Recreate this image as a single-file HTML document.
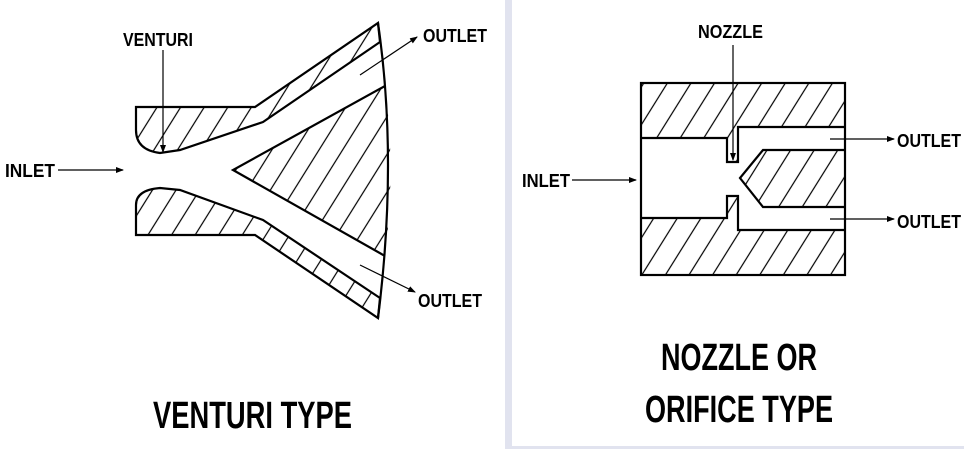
<!DOCTYPE html>
<html><head><style>html,body{margin:0;padding:0;background:#fff}svg{display:block}</style></head><body>
<svg width="964" height="449" viewBox="0 0 964 449" xmlns="http://www.w3.org/2000/svg">
<defs>
<pattern id="h" patternUnits="userSpaceOnUse" width="20" height="200" patternTransform="rotate(32)">
<line x1="10" y1="0" x2="10" y2="200" stroke="#000" stroke-width="1.2"/>
</pattern>
<marker id="a" markerWidth="8" markerHeight="6" refX="7" refY="3" orient="auto" markerUnits="userSpaceOnUse"><path d="M0,0 L8,3 L0,6 z" fill="#000"/></marker>
</defs>
<rect x="505" y="0" width="7" height="449" fill="#e1e3ef"/>
<rect x="505" y="446" width="459" height="3" fill="#e1e3ef"/>
<g font-family="Liberation Sans, sans-serif" font-weight="bold" fill="#000">
<text x="123" y="46" font-size="18" textLength="70" lengthAdjust="spacingAndGlyphs">VENTURI</text>
<text x="5" y="177" font-size="18" textLength="50" lengthAdjust="spacingAndGlyphs">INLET</text>
<text x="423" y="42" font-size="18" textLength="64" lengthAdjust="spacingAndGlyphs">OUTLET</text>
<text x="418" y="307" font-size="18" textLength="64" lengthAdjust="spacingAndGlyphs">OUTLET</text>
<text x="153" y="428" font-size="38" textLength="199" lengthAdjust="spacingAndGlyphs">VENTURI TYPE</text>
<text x="698" y="38" font-size="18" textLength="65" lengthAdjust="spacingAndGlyphs">NOZZLE</text>
<text x="522" y="187" font-size="18" textLength="48" lengthAdjust="spacingAndGlyphs">INLET</text>
<text x="897" y="147" font-size="18" textLength="64" lengthAdjust="spacingAndGlyphs">OUTLET</text>
<text x="897" y="228" font-size="18" textLength="64" lengthAdjust="spacingAndGlyphs">OUTLET</text>
<text x="661" y="370" font-size="38" textLength="156" lengthAdjust="spacingAndGlyphs">NOZZLE OR</text>
<text x="645" y="422" font-size="38" textLength="188" lengthAdjust="spacingAndGlyphs">ORIFICE TYPE</text>
</g>
<g fill="none" stroke="#000" stroke-width="2.2" stroke-linejoin="miter">
<path d="M136,107 L255,107 L378,23 L380,42 L263,122 L180,150 L160,153 Q136,150 136,130 Z" fill="url(#h)"/>
<path d="M136,235 L255,235 L378,318 L380,298 L263,220 L180,190 L160,188 Q136,190 136,205 Z" fill="url(#h)"/>
<path d="M385,86 Q396,170 385,256 L233,170 Z" fill="url(#h)" stroke="none"/>
<path d="M385,86 L233,170 L385,256"/>
<path d="M378,23 Q398,160 378,318"/>
<rect x="641" y="83" width="204" height="192"/>
<path d="M641,138 L727,138 L727,162 L738,162 L738,127 L845,127 L845,83 L641,83 Z" fill="url(#h)" stroke="none"/>
<path d="M641,218 L727,218 L727,196 L738,196 L738,230 L845,230 L845,275 L641,275 Z" fill="url(#h)" stroke="none"/>
<path d="M845,150 L763,150 L740,178 L763,207 L845,207" fill="url(#h)"/>
<path d="M641,138 L727,138 L727,162 L738,162 L738,127 L845,127"/>
<path d="M641,218 L727,218 L727,196 L738,196 L738,230 L845,230"/>
</g>
<g stroke="#000" stroke-width="1.2" fill="none">
<line x1="163" y1="50" x2="163" y2="152" marker-end="url(#a)"/>
<line x1="58" y1="170" x2="123" y2="170" marker-end="url(#a)"/>
<line x1="360" y1="75" x2="417" y2="37" marker-end="url(#a)"/>
<line x1="360" y1="265" x2="415" y2="292" marker-end="url(#a)"/>
<line x1="733" y1="45" x2="733" y2="160" marker-end="url(#a)"/>
<line x1="572" y1="180" x2="636" y2="180" marker-end="url(#a)"/>
<line x1="830" y1="139" x2="894" y2="139" marker-end="url(#a)"/>
<line x1="830" y1="219" x2="894" y2="219" marker-end="url(#a)"/>
</g>
</svg>
</body></html>
